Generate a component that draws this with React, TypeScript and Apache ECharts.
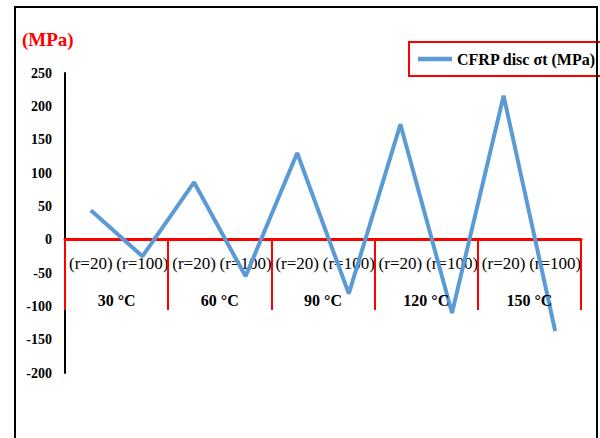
import React, { useEffect, useRef } from "react";
import * as echarts from "echarts";

const categories = ["(r=20)", "(r=100)", "(r=20)", "(r=100)", "(r=20)", "(r=100)", "(r=20)", "(r=100)", "(r=20)", "(r=100)"];
const groups = ["30 °C", "60 °C", "90 °C", "120 °C", "150 °C"];
const stressValues = [44, -25, 86, -55, 130, -81, 173, -110, 216, -137];
const seriesName = "CFRP disc σt (MPa)";
const yTicks = { min: -200, max: 250, interval: 50 };

const FONT = "'Liberation Serif', 'Times New Roman', serif";

export default function App() {
  const ref = useRef<HTMLDivElement>(null);
  useEffect(() => {
    if (!ref.current) return;
    const chart = echarts.init(ref.current, null, { renderer: "svg" });
    chart.setOption({
      animation: false,
      backgroundColor: "#ffffff",
      grid: [
        { left: 65, right: 19, top: 73, bottom: 65 },
        { left: 65, right: 19, top: 240, height: 70 },
      ],
      legend: {
        left: 409,
        top: 42,
        padding: [9, 14, 9, 9],
        borderColor: "#ff0000",
        borderWidth: 2,
        itemWidth: 34,
        itemHeight: 14,
        itemGap: 4,
        textStyle: { fontFamily: FONT, fontWeight: "bold", fontSize: 16, color: "#000" },
        data: [{ name: seriesName, icon: "path://M0,0 L34,0 L34,4.5 L0,4.5 Z" }],
        itemStyle: { color: "#5B9BD5" },
      },
      xAxis: [
        {
          type: "category",
          gridIndex: 0,
          data: categories,
          boundaryGap: true,
          axisLine: { onZero: true, lineStyle: { color: "#ff0000", width: 3 } },
          axisTick: { show: false },
          axisLabel: { show: false },
          splitLine: { show: false },
          z: 3,
        },
        {
          type: "category",
          gridIndex: 1,
          data: groups,
          boundaryGap: true,
          position: "bottom",
          axisLine: { show: false },
          axisTick: { show: true, inside: true, length: 70, lineStyle: { color: "#ff0000", width: 2 } },
          axisLabel: {
            inside: true,
            interval: 0,
            margin: 2,
            fontFamily: FONT,
            fontWeight: "bold",
            fontSize: 16,
            color: "#000",
          },
          splitLine: { show: false },
          z: 5,
        },
        {
          type: "category",
          gridIndex: 1,
          data: categories,
          boundaryGap: true,
          position: "top",
          axisLine: { show: false },
          axisTick: { show: false },
          axisLabel: {
            inside: true,
            interval: 0,
            margin: 15,
            fontFamily: FONT,
            fontSize: 17,
            color: "#000",
          },
          splitLine: { show: false },
          z: 2,
        },
      ],
      yAxis: [
        {
          type: "value",
          gridIndex: 0,
          min: yTicks.min,
          max: yTicks.max,
          interval: yTicks.interval,
          axisLine: { show: true, lineStyle: { color: "#000", width: 2 } },
          axisTick: { show: false },
          splitLine: { show: false },
          axisLabel: {
            margin: 13,
            fontFamily: FONT,
            fontWeight: "bold",
            fontSize: 14,
            color: "#000",
          },
        },
        {
          type: "value",
          gridIndex: 1,
          show: false,
          min: 0,
          max: 1,
        },
      ],
      graphic: [
        {
          type: "text",
          left: 22,
          top: 30,
          style: {
            text: "(MPa)",
            fill: "#ff0000",
            font: `bold 19px ${FONT}`,
          },
        },
        {
          type: "rect",
          shape: { x: 15, y: 7, width: 582, height: 500 },
          style: { fill: "none", stroke: "#000", lineWidth: 2 },
          z: 100,
          silent: true,
        },
      ],
      series: [
        {
          name: seriesName,
          type: "line",
          xAxisIndex: 0,
          yAxisIndex: 0,
          data: stressValues,
          symbol: "none",
          lineStyle: { color: "#5B9BD5", width: 4 },
          itemStyle: { color: "#5B9BD5" },
          z: 4,
        },
      ],
    });
    return () => chart.dispose();
  }, []);
  return (
    <div
      ref={ref}
      style={{ position: "fixed", left: 0, top: 0, width: 600, height: 438 }}
    />
  );
}
